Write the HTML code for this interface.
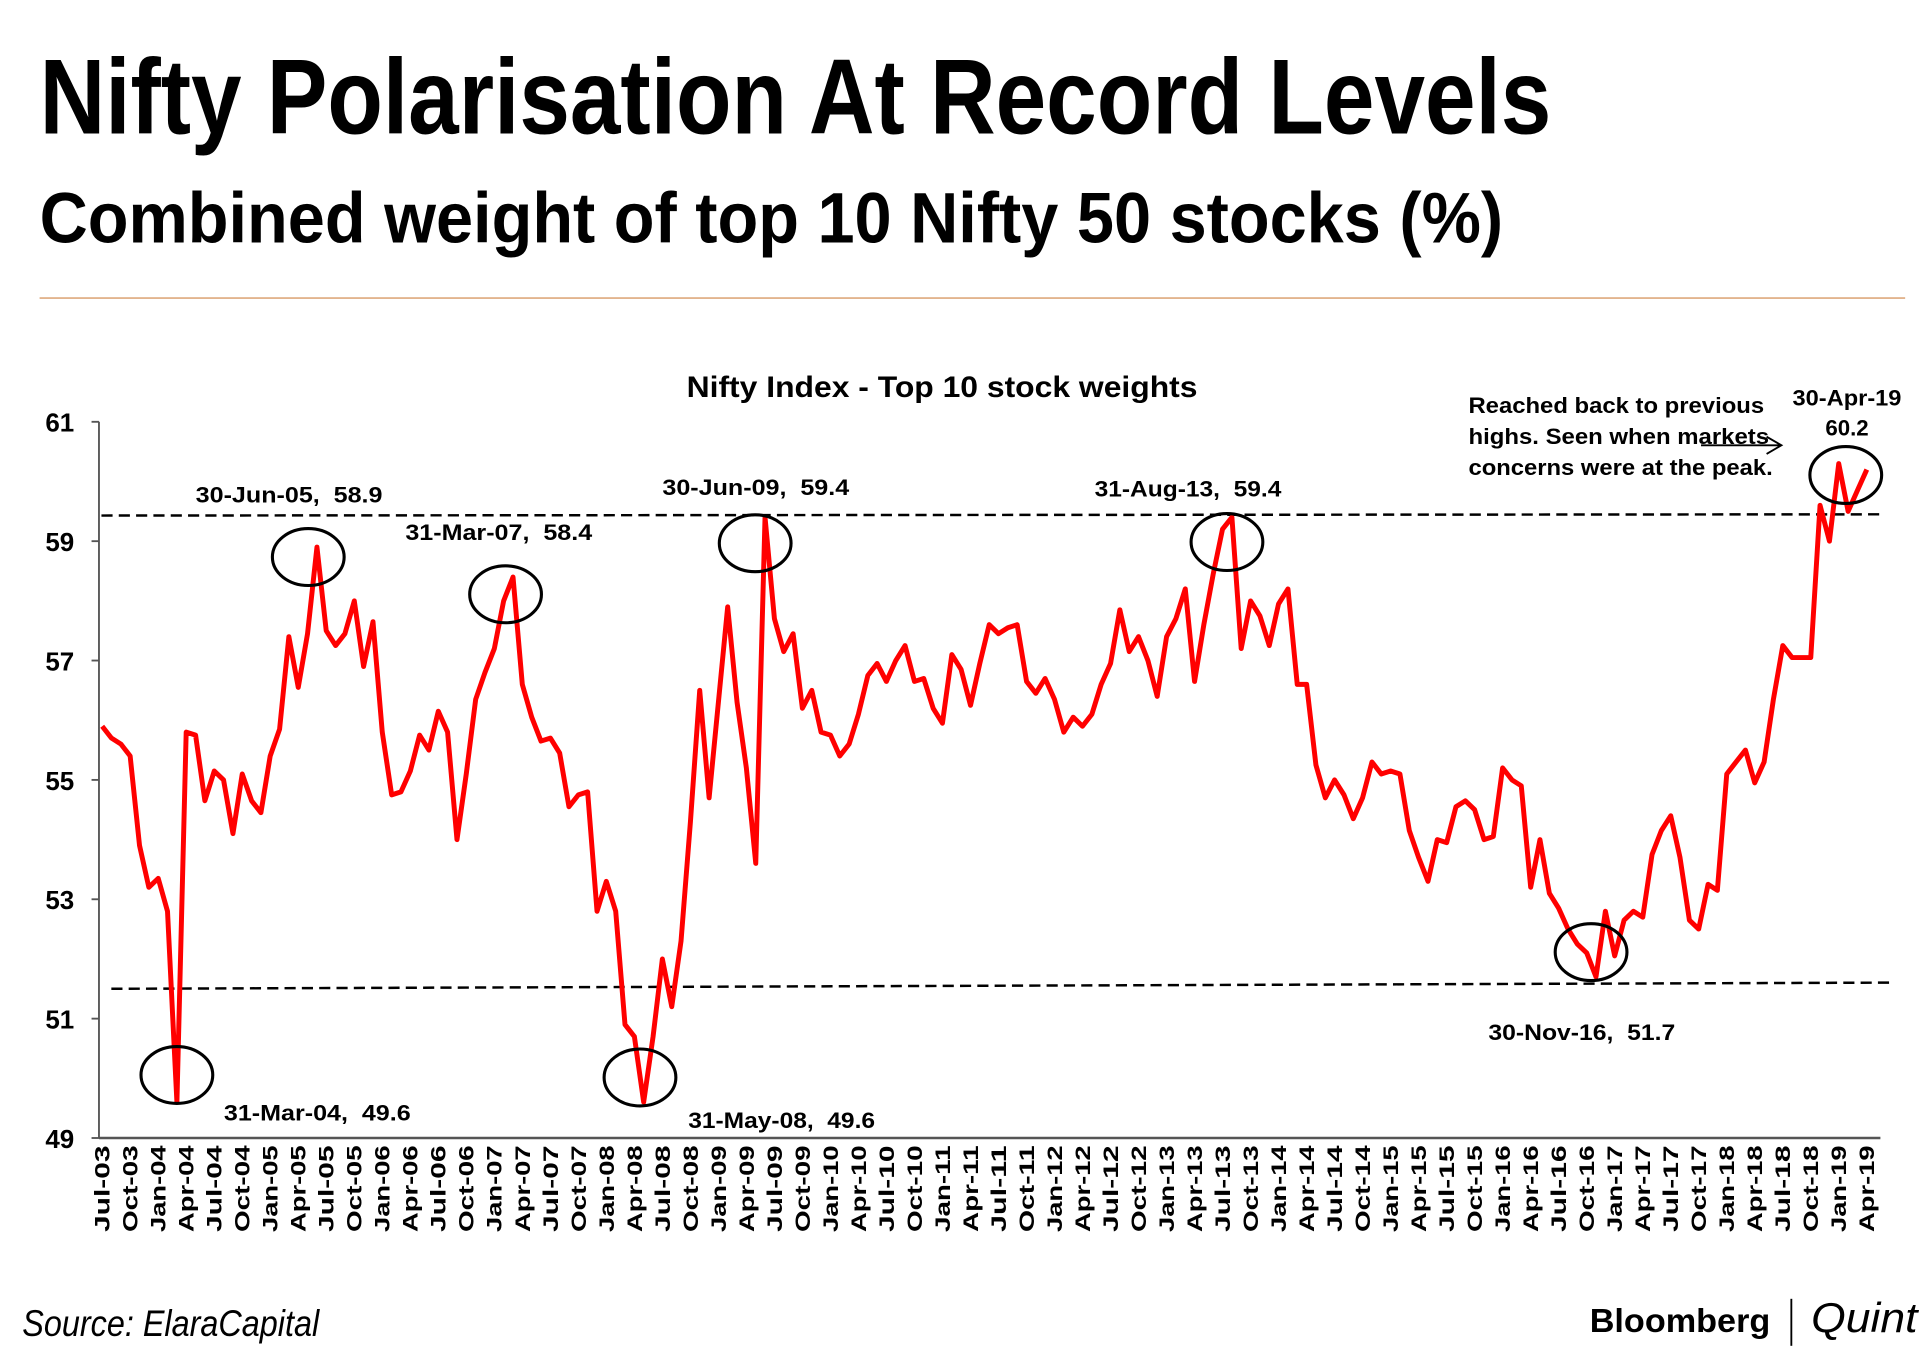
<!DOCTYPE html>
<html><head><meta charset="utf-8"><style>
html,body{margin:0;padding:0;background:#fff;}
svg{display:block;}
text{font-family:"Liberation Sans",sans-serif;white-space:pre;}
</style></head><body>
<svg id="chart" width="1920" height="1352" viewBox="0 0 1552 1093" preserveAspectRatio="none" xmlns="http://www.w3.org/2000/svg">
<rect width="1552" height="1093" fill="#fff"/>
<text x="32" y="108" font-size="86" font-weight="bold" textLength="1222" lengthAdjust="spacingAndGlyphs">Nifty Polarisation At Record Levels</text>
<text x="32" y="196" font-size="58" font-weight="bold" textLength="1183" lengthAdjust="spacingAndGlyphs">Combined weight of top 10 Nifty 50 stocks (%)</text>
<line x1="32" y1="241" x2="1540" y2="241" stroke="#e2b48e" stroke-width="1.5"/>
<text x="555" y="321" font-size="24" font-weight="bold" textLength="413" lengthAdjust="spacingAndGlyphs">Nifty Index - Top 10 stock weights</text>
<g id="axes"></g>
<g id="refs"></g>
<path id="series" fill="none" stroke="#ff0000" stroke-width="4" stroke-linejoin="round"/>
<g id="notes" font-weight="bold" font-size="18"></g>
<text x="18" y="1080" font-size="30" font-style="italic" textLength="240" lengthAdjust="spacingAndGlyphs">Source: ElaraCapital</text>
<text x="1285" y="1077" font-size="27" font-weight="bold" textLength="146" lengthAdjust="spacingAndGlyphs">Bloomberg</text>
<line x1="1448" y1="1050" x2="1448" y2="1088" stroke="#000" stroke-width="1.5"/>
<text x="1464" y="1077" font-size="34" font-style="italic" font-family="Liberation Serif, serif" textLength="86" lengthAdjust="spacingAndGlyphs">Quint</text>
</svg>
<script>
const values = [55.9,55.7,55.6,55.4,53.9,53.2,53.35,52.8,49.6,55.8,55.75,54.65,55.15,55.0,54.1,55.1,54.65,54.45,55.4,55.85,57.4,56.55,57.45,58.9,57.5,57.25,57.45,58.0,56.9,57.65,55.8,54.75,54.8,55.15,55.75,55.5,56.15,55.8,54.0,55.1,56.35,56.8,57.2,58.0,58.4,56.6,56.05,55.65,55.7,55.45,54.55,54.75,54.8,52.8,53.3,52.8,50.9,50.7,49.6,50.7,52.0,51.2,52.3,54.3,56.5,54.7,56.3,57.9,56.3,55.2,53.6,59.4,57.7,57.15,57.45,56.2,56.5,55.8,55.75,55.4,55.6,56.1,56.75,56.95,56.65,57.0,57.25,56.65,56.7,56.2,55.95,57.1,56.85,56.25,56.95,57.6,57.45,57.55,57.6,56.65,56.45,56.7,56.35,55.8,56.05,55.9,56.1,56.6,56.95,57.85,57.15,57.4,57.0,56.4,57.4,57.7,58.2,56.65,57.6,58.45,59.2,59.4,57.2,58.0,57.75,57.25,57.95,58.2,56.6,56.6,55.25,54.7,55.0,54.75,54.35,54.7,55.3,55.1,55.15,55.1,54.15,53.7,53.3,54.0,53.95,54.55,54.65,54.5,54.0,54.05,55.2,55.0,54.9,53.2,54.0,53.1,52.85,52.5,52.25,52.1,51.7,52.8,52.05,52.65,52.8,52.7,53.75,54.15,54.4,53.7,52.65,52.5,53.25,53.15,55.1,55.3,55.5,54.95,55.3,56.35,57.25,57.05,57.05,57.05,59.6,59.0,60.3,59.5,59.85,60.2];
const yTicks = [49,51,53,55,57,59,61];
const monthNames = ["Jan","Feb","Mar","Apr","May","Jun","Jul","Aug","Sep","Oct","Nov","Dec"];
const startYear = 2003, startMonth = 6;
const refHigh = 59.45, refLow = 51.5;
const calloutIdx = [8,23,44,58,71,121,160];
const calloutLabels = ["31-Mar-04,  49.6","30-Jun-05,  58.9","31-Mar-07,  58.4","31-May-08,  49.6","30-Jun-09,  59.4","31-Aug-13,  59.4","30-Nov-16,  51.7"];
const NS="http://www.w3.org/2000/svg";
const X0=80,X1=1520,Y0=920,Y1=341,VMIN=49,VMAX=61;
function xs(i){return 82.6+i*7.547;}
function ys(v){return Y0-(v-VMIN)*(Y0-Y1)/(VMAX-VMIN);}
function mk(tag,attrs,parent,txt){const e=document.createElementNS(NS,tag);for(const k in attrs)e.setAttribute(k,attrs[k]);if(txt!==undefined)e.textContent=txt;parent.appendChild(e);return e;}
const axes=document.getElementById('axes');
let a=mk('line',{x1:X0,y1:Y1,x2:X0,y2:Y0,stroke:'#555','stroke-width':1.5},axes);


a=mk('line',{x1:X0,y1:Y0,x2:X1,y2:Y0,stroke:'#555','stroke-width':2},axes);


yTicks.forEach(v=>{
 const y=ys(v);
 mk('line',{x1:X0-6,y1:y,x2:X0,y2:y,stroke:'#555','stroke-width':1.5},axes);
 const t=mk('text',{x:60,y:y+8,'font-size':21,'font-weight':'bold','text-anchor':'end'},axes,String(v));
 
 
});
for(let i=0;i<values.length;i+=3){
 const m=(startMonth+i)%12, yr=startYear+Math.floor((startMonth+i)/12);
 const lab=monthNames[m]+'-'+String(yr%100).padStart(2,'0');
 const x=xs(i)+6;
 const t=mk('text',{x:0,y:0,'font-size':17,'font-weight':'bold','text-anchor':'end',textLength:70,lengthAdjust:'spacingAndGlyphs',transform:'translate('+x+',926) rotate(-90)'},axes,lab);
 
 
}
const refs=document.getElementById('refs');
let r=mk('line',{x1:82,y1:ys(refHigh)+1,x2:1522,y2:ys(refHigh),stroke:'#000','stroke-width':2,'stroke-dasharray':'9,5'},refs);


r=mk('line',{x1:90,y1:ys(refLow),x2:1528,y2:ys(refLow)-5,stroke:'#000','stroke-width':2,'stroke-dasharray':'9,5'},refs);


let d='';
values.forEach((v,i)=>{d+=(i?'L':'M')+xs(i).toFixed(1)+','+ys(v).toFixed(1);});
document.getElementById('series').setAttribute('d',d);
const notes=document.getElementById('notes');
const lblOff=[[38,15],[-98,-36],[-87,-30],[36,21],[-83,-18],[-111,-17],[-87,51]];
const ellOff=[[0,-22],[-7,8],[-6,14],[-3,-20],[-8,21],[-4,20],[-4,-20]];
calloutIdx.forEach((idx,k)=>{
 const px=xs(idx), py=ys(values[idx]);
 const e=mk('ellipse',{cx:px+ellOff[k][0],cy:py+ellOff[k][1],rx:29,ry:23,fill:'none',stroke:'#000','stroke-width':2.5},notes);
 
 
 const t=mk('text',{x:px+lblOff[k][0],y:py+lblOff[k][1],textLength:151,lengthAdjust:'spacingAndGlyphs'},notes,calloutLabels[k]);
 
 
});
const li=values.length-1;
let e=mk('ellipse',{cx:1492,cy:384,rx:29,ry:23,fill:'none',stroke:'#000','stroke-width':2.5},notes);


let t=mk('text',{x:1493,y:328,'text-anchor':'middle',textLength:88,lengthAdjust:'spacingAndGlyphs'},notes,'30-Apr-19');


t=mk('text',{x:1493,y:352,'text-anchor':'middle'},notes,String(values[li]));


const noteLines=['Reached back to previous','highs. Seen when markets','concerns were at the peak.'];
const noteLens=[239,243,246];
noteLines.forEach((s,k)=>{
 const tt=mk('text',{x:1187,y:334+k*25,textLength:noteLens[k],lengthAdjust:'spacingAndGlyphs'},notes,s);
 
 
});
const ar=mk('path',{d:'M1375,360 L1440,360 M1428,353 L1440,360 L1428,367',fill:'none',stroke:'#000','stroke-width':1.5},notes);


</script>
</body></html>
